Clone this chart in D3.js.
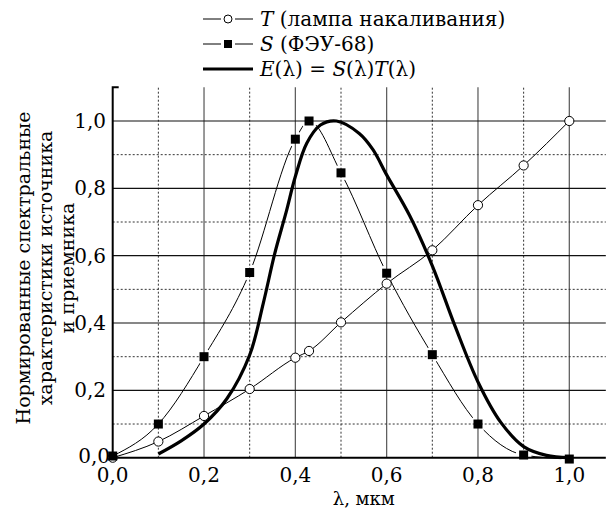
<html lang="ru">
<head>
    <meta charset="UTF-8">
    <script src="https://cdn.jsdelivr.net/npm/d3@7"></script>
    <style>
        body { margin: 0; background: #fff; }
    </style>
</head>
<body>
<script>
    // data
    var tX = [0, 0.1, 0.2, 0.3, 0.4, 0.43, 0.5, 0.6, 0.7, 0.8, 0.9, 1.0];
    var tY = [0, 0.048, 0.124, 0.204, 0.297, 0.317, 0.402, 0.517, 0.616, 0.75, 0.868, 1.0];

    var sX = [0, 0.1, 0.2, 0.3, 0.4, 0.43, 0.5, 0.6, 0.7, 0.8, 0.9, 1.0];
    var sY = [0.005, 0.1, 0.3, 0.55, 0.946, 1.0, 0.846, 0.548, 0.306, 0.1, 0.008, -0.004];

    var eX = [0.10, 0.15, 0.20, 0.25, 0.30, 0.33, 0.355, 0.38, 0.40, 0.425, 0.455, 0.49, 0.54, 0.57, 0.60, 0.65, 0.70, 0.75, 0.80, 0.85, 0.90, 0.95, 1.00];
    var eY = [0.011, 0.05, 0.10, 0.175, 0.305, 0.46, 0.607, 0.73, 0.835, 0.934, 0.988, 1.0, 0.963, 0.915, 0.84, 0.72, 0.57, 0.39, 0.225, 0.105, 0.033, 0.007, 0.0];

    var xTicks = [0, 0.2, 0.4, 0.6, 0.8, 1.0];
    var yTicks = [0, 0.2, 0.4, 0.6, 0.8, 1.0];
    var minorTicks = [0.1, 0.3, 0.5, 0.7, 0.9];

    var legendItems = [
        { name: "T", rest: " (лампа накаливания)", kind: "circle" },
        { name: "S", rest: " (ФЭУ-68)", kind: "square" },
        { name: "E", rest: "(λ) = ", kind: "line" }
    ];

    var yTitle = ["Нормированные спектральные", "характеристики источника", "и приемника"];

    var w = 608, h = 508;
    var xMax = 1.08, yMax = 1.1;
    var FONT = "'DejaVu Serif', serif";

    var x = d3.scaleLinear().domain([0, 1]).range([112.7, 569.3]);
    var y = d3.scaleLinear().domain([0, 1]).range([457.7, 121]);

    var fmt = function (v) { return d3.format(".1f")(v).replace(".", ","); };

    var svg = d3.select("body").append("svg")
        .attr("width", w)
        .attr("height", h);

    // grid
    var grid = svg.append("g");
    grid.selectAll(".vmaj").data(xTicks.slice(1)).enter().append("line")
        .attr("x1", function (d) { return x(d); }).attr("x2", function (d) { return x(d); })
        .attr("y1", y(0)).attr("y2", y(yMax))
        .attr("stroke", "#555").attr("stroke-width", 1.2);
    grid.selectAll(".vmin").data(minorTicks).enter().append("line")
        .attr("x1", function (d) { return x(d); }).attr("x2", function (d) { return x(d); })
        .attr("y1", y(0)).attr("y2", y(yMax))
        .attr("stroke", "#333").attr("stroke-width", 1).attr("stroke-dasharray", "2,2");
    grid.selectAll(".hmaj").data(yTicks.slice(1)).enter().append("line")
        .attr("x1", x(0)).attr("x2", x(xMax))
        .attr("y1", function (d) { return y(d); }).attr("y2", function (d) { return y(d); })
        .attr("stroke", "#111").attr("stroke-width", 1.2);
    grid.selectAll(".hmin").data(minorTicks).enter().append("line")
        .attr("x1", x(0)).attr("x2", x(xMax))
        .attr("y1", function (d) { return y(d); }).attr("y2", function (d) { return y(d); })
        .attr("stroke", "#333").attr("stroke-width", 1).attr("stroke-dasharray", "2,2");

    // axes lines
    svg.append("path")
        .attr("d", "M" + (x(0) + 6) + "," + y(yMax) + "H" + x(0) + "V" + y(0) + "H" + x(xMax))
        .attr("fill", "none").attr("stroke", "#000").attr("stroke-width", 2);

    // tick labels
    svg.selectAll(".xl").data(xTicks).enter().append("text")
        .attr("x", function (d) { return x(d); })
        .attr("y", 482)
        .attr("text-anchor", "middle")
        .style("font-family", FONT)
        .style("font-size", "20px")
        .text(fmt);
    svg.selectAll(".yl").data(yTicks).enter().append("text")
        .attr("x", function (d) { return d === 0 ? 110 : 106; })
        .attr("y", function (d) { return y(d) + (d === 0 ? 5 : 7); })
        .attr("text-anchor", "end")
        .style("font-family", FONT)
        .style("font-size", "20px")
        .text(fmt);

    svg.append("text")
        .attr("x", x(0.55))
        .attr("y", 505)
        .attr("text-anchor", "middle")
        .style("font-family", FONT)
        .style("font-size", "18px")
        .text("λ, мкм");

    svg.append("g")
        .attr("transform", "translate(0,268) rotate(-90)")
        .selectAll("text").data(yTitle).enter().append("text")
        .attr("x", 0)
        .attr("y", function (d, i) { return 30 + i * 22; })
        .attr("text-anchor", "middle")
        .style("font-family", FONT)
        .style("font-size", "19px")
        .text(function (d) { return d; });

    // curves
    var tPts = tX.map(function (v, i) { return [v, tY[i]]; });
    var sPts = sX.map(function (v, i) { return [v, sY[i]]; });
    var ePts = eX.map(function (v, i) { return [v, eY[i]]; });

    var line = d3.line()
        .x(function (d) { return x(d[0]); })
        .y(function (d) { return y(d[1]); })
        .curve(d3.curveMonotoneX);

    var smooth = d3.line()
        .x(function (d) { return x(d[0]); })
        .y(function (d) { return y(d[1]); })
        .curve(d3.curveCatmullRom.alpha(0.5));

    // mask to leave small gaps around S markers
    var mask = svg.append("defs").append("mask").attr("id", "sgap");
    mask.append("rect").attr("width", w).attr("height", h).attr("fill", "#fff");
    mask.selectAll("circle").data(sPts.slice(2)).enter().append("circle")
        .attr("cx", function (d) { return x(d[0]); })
        .attr("cy", function (d) { return y(d[1]); })
        .attr("r", 8).attr("fill", "#000");

    svg.append("path").datum(sPts)
        .attr("d", line)
        .attr("fill", "none").attr("stroke", "#000").attr("stroke-width", 1)
        .attr("mask", "url(#sgap)");

    svg.append("path").datum(tPts)
        .attr("d", line)
        .attr("fill", "none").attr("stroke", "#000").attr("stroke-width", 1);

    svg.append("path").datum(ePts)
        .attr("d", smooth)
        .attr("fill", "none").attr("stroke", "#000").attr("stroke-width", 3.2);

    svg.selectAll(".tp").data(tPts).enter().append("circle")
        .attr("cx", function (d) { return x(d[0]); })
        .attr("cy", function (d) { return y(d[1]); })
        .attr("r", 4.6)
        .attr("fill", "#fff").attr("stroke", "#000").attr("stroke-width", 1);

    svg.selectAll(".sp").data(sPts).enter().append("rect")
        .attr("x", function (d) { return x(d[0]) - 4.5; })
        .attr("y", function (d) { return y(d[1]) - 4.5; })
        .attr("width", 9).attr("height", 9)
        .attr("fill", "#000");

    // legend
    var lg = svg.append("g");
    legendItems.forEach(function (it, i) {
        var by = 26 + i * 25;
        var cy = by - 7;
        var g = lg.append("g");
        if (it.kind === "line") {
            g.append("line").attr("x1", 203).attr("x2", 253).attr("y1", cy).attr("y2", cy)
                .attr("stroke", "#000").attr("stroke-width", 3);
        } else {
            g.append("line").attr("x1", 203).attr("x2", 221).attr("y1", cy).attr("y2", cy)
                .attr("stroke", "#000").attr("stroke-width", 1);
            g.append("line").attr("x1", 235).attr("x2", 253).attr("y1", cy).attr("y2", cy)
                .attr("stroke", "#000").attr("stroke-width", 1);
            if (it.kind === "circle") {
                g.append("circle").attr("cx", 228).attr("cy", cy).attr("r", 4)
                    .attr("fill", "#fff").attr("stroke", "#000");
            } else {
                g.append("rect").attr("x", 224).attr("y", cy - 4).attr("width", 8).attr("height", 8)
                    .attr("fill", "#000");
            }
        }
        var t = g.append("text").attr("x", 260).attr("y", by)
            .style("font-family", FONT).style("font-size", "20px");
        t.append("tspan").attr("font-style", "italic").text(it.name);
        t.append("tspan").text(it.rest);
        if (it.kind === "line") {
            t.append("tspan").attr("font-style", "italic").text("S");
            t.append("tspan").text("(λ)");
            t.append("tspan").attr("font-style", "italic").text("T");
            t.append("tspan").text("(λ)");
        }
    });
</script>
</body>
</html>
